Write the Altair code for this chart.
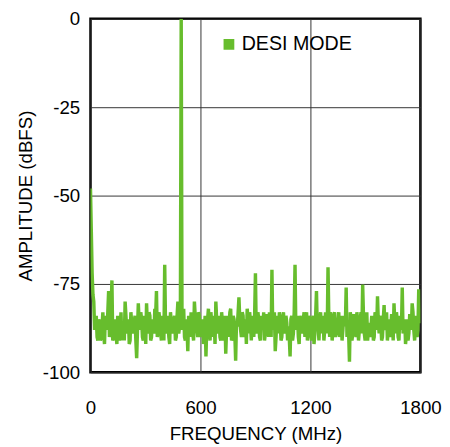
import altair as alt
import pandas as pd

freq_step = 9  # MHz between samples
# samples at f = 9*i
amplitude = [
    -48, -72, -80, -86, -90, -85, -91, -87, -89, -84,
    -88, -77, -89, -74, -90, -86, -92, -85, -88, -91,
    -87, -80, -89, -85, -91, -86, -88, -84, -96, -80.5,
    -88, -85, -91, -86, -80.5, -89, -84, -90, -87, -82,
    -77, -88, -85, -91, -86, -69.6, -89, -85, -92, -86,
    -88, -84, -90, -80, -87, 0, -86, -90, -85, -94,
    -87, -83, -89, -80, -86, -90, -84, -88, -85, -89,
    -95.5, -85, -88, -83, -90, -86, -80, -89, -84, -91,
    -86, -89, -94.7, -84, -87, -82, -90, -85, -96.7, -87,
    -78.8, -88, -83, -90, -85, -82, -89, -86, -84, -90,
    -72, -88, -85, -91, -86, -83, -89, -84, -90, -87,
    -71, -86, -94, -84, -89, -85, -90, -83, -88, -86,
    -87, -95.5, -84, -89, -69.6, -86, -90, -84, -88, -85,
    -90, -83, -88, -86, -91, -84, -89, -77, -87, -85,
    -89, -84, -88, -86, -70.3, -90, -85, -88, -83, -89,
    -86, -90, -84, -88, -85, -76, -87, -97, -85, -89,
    -84, -90, -86, -88, -83, -75.2, -89, -85, -91, -86,
    -88, -85, -90, -84, -78.5, -89, -86, -90, -81, -87,
    -91, -85, -88, -84, -80.5, -89, -86, -91, -85, -76,
    -88, -92, -85, -89, -84, -80.5, -88, -86, -90, -76.5,
    -85,
]
# samples halfway between, at f = 9*i + 4.5
amplitude_mid = [
    -60, -78, -88, -84, -91, -86, -90, -83, -92, -86,
    -83, -90, -82, -91, -85, -89, -84, -91, -83, -87,
    -91, -84, -87, -92, -83, -89, -86, -91, -88, -86,
    -83, -90, -84, -92, -87, -83, -91, -85, -89, -84,
    -90, -83, -89, -84, -91, -87, -84, -90, -83, -89,
    -85, -91, -84, -89, -83, -88, -82, -91, -87, -84,
    -90, -85, -91, -84, -88, -83, -90, -86, -92, -84,
    -87, -82, -91, -86, -84, -92, -85, -87, -90, -83,
    -91, -84, -88, -90, -83, -91, -84, -89, -86, -83,
    -85, -90, -84, -88, -92, -85, -83, -91, -87, -84,
    -89, -83, -90, -84, -88, -91, -84, -86, -83, -90,
    -88, -83, -90, -86, -83, -91, -85, -89, -84, -91,
    -90, -85, -91, -83, -88, -84, -92, -85, -89, -83,
    -86, -91, -84, -89, -85, -92, -84, -88, -91, -83,
    -86, -91, -83, -89, -85, -83, -91, -84, -90, -85,
    -83, -89, -91, -84, -87, -90, -89, -83, -91, -84,
    -88, -83, -91, -85, -89, -84, -91, -83, -88, -90,
    -84, -91, -83, -88, -86, -84, -91, -85, -88, -83,
    -88, -90, -84, -91, -86, -83, -90, -84, -88, -89,
    -85, -89, -91, -84, -88, -83, -91, -84, -88, -86,
]

freqs, amps = [], []
for i, a in enumerate(amplitude):
    freqs.append(i * freq_step)
    amps.append(a)
    if i < len(amplitude_mid):
        freqs.append(i * freq_step + freq_step / 2)
        amps.append(amplitude_mid[i])

x_ticks = [0, 600, 1200, 1800]
y_ticks = [0, -25, -50, -75, -100]

df = pd.DataFrame({"f": freqs, "a": amps, "s": ["DESI MODE"] * len(freqs)})

FONT = "Liberation Sans"
GREEN = "#67bd2d"

chart = alt.Chart(df).mark_line(strokeWidth=3.5, clip=True).encode(
    x=alt.X("f:Q", scale=alt.Scale(domain=[0, 1800], nice=False),
            axis=alt.Axis(values=x_ticks, title="FREQUENCY (MHz)", grid=True,
                          labelExpr="datum.value + ''",
                          tickSize=0, labelPadding=27, domain=False,
                          labelFontSize=19, titleFontSize=19, titleFontWeight="normal",
                          labelFont=FONT, titleFont=FONT, labelColor="#000", titleColor="#000",
                          gridColor="#333", gridWidth=1, labelFlush=False, titlePadding=7)),
    y=alt.Y("a:Q", scale=alt.Scale(domain=[-100, 0], nice=False),
            axis=alt.Axis(values=y_ticks, title="AMPLITUDE (dBFS)", grid=True,
                          labelExpr="datum.value + ''",
                          tickSize=0, labelPadding=11, domain=False,
                          labelFontSize=19, titleFontSize=19, titleFontWeight="normal",
                          labelFont=FONT, titleFont=FONT, labelColor="#000", titleColor="#000",
                          gridColor="#333", gridWidth=1, labelFlush=False, titlePadding=7)),
    color=alt.Color("s:N", scale=alt.Scale(range=[GREEN]),
                    legend=alt.Legend(title=None, orient="none", legendX=131, legendY=16,
                                      symbolType="square", symbolFillColor=GREEN, symbolStrokeWidth=0,
                                      symbolSize=120, labelFontSize=20, labelFont=FONT,
                                      labelColor="#000", labelOffset=3)),
).properties(
    width=336, height=360,
    autosize=alt.AutoSizeParams(type="none"),
    padding={"left": 84, "top": 7, "right": 22, "bottom": 72},
).configure_view(stroke="#000", strokeWidth=2.5)

chart.save("out.html", embed_options={"renderer": "svg", "actions": False})
